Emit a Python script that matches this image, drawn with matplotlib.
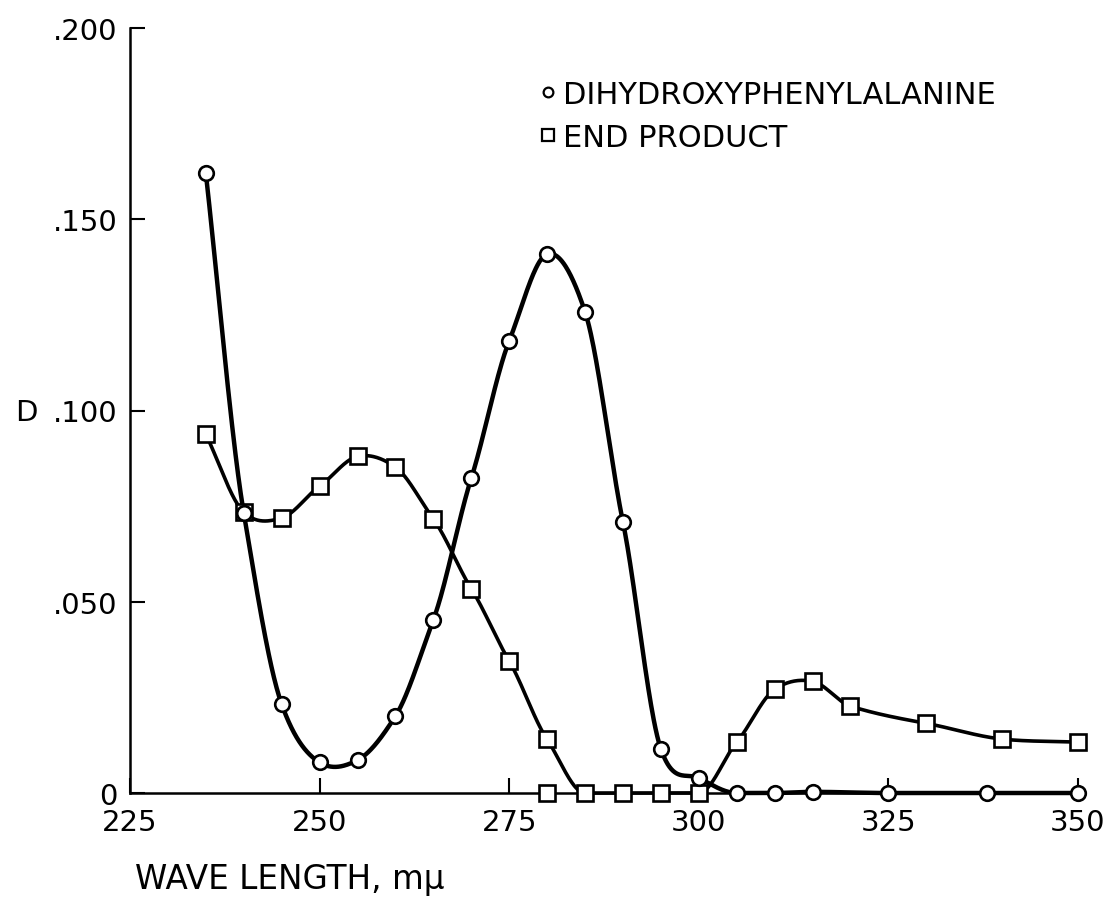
import numpy as np
import matplotlib
matplotlib.use("Agg")
import matplotlib.pyplot as plt
from matplotlib.lines import Line2D

plt.rcParams['font.family'] = ['DejaVu Sans']

# ---- data ----
dopa_x = [235, 240, 245, 250, 255, 260, 265, 270, 275, 280, 285, 290, 295, 300,
          305, 310, 315, 325, 338, 350]
dopa_y = [0.162, 0.0732, 0.0232, 0.0080, 0.0086, 0.0201, 0.0453, 0.0823, 0.1182,
          0.1409, 0.1258, 0.0708, 0.0115, 0.0039, 0.0, 0.0, 0.0003, 0.0, 0.0, 0.0]

end_x = [235, 240, 245, 250, 255, 260, 265, 270, 275, 280, 285, 290, 295, 300,
         305, 310, 315, 320, 330, 340, 350]
end_y = [0.0938, 0.0734, 0.0719, 0.0802, 0.0880, 0.0852, 0.0716, 0.0534, 0.0345,
         0.0140, 0.0, 0.0, 0.0, 0.0, 0.0133, 0.0271, 0.0292, 0.0227, 0.0182,
         0.0141, 0.0133]

end_extra_x = [280]
end_extra_y = [0.0]

x_ticks = [225, 250, 275, 300, 325, 350]
y_ticks = [0, 0.05, 0.10, 0.15, 0.20]
y_tick_labels = ['0', '.050', '.100', '.150', '.200']
legend_labels = ['DIHYDROXYPHENYLALANINE', 'END PRODUCT']


def smooth(x, y, xs, tension=0.15):
    """Cardinal cubic Hermite curve through the points."""
    x = np.asarray(x, float)
    y = np.asarray(y, float)
    n = len(x)
    h = np.diff(x)
    m = np.zeros(n)
    m[1:-1] = (1 - tension) * (y[2:] - y[:-2]) / (x[2:] - x[:-2])
    m[0] = (y[1] - y[0]) / h[0]
    m[-1] = (y[-1] - y[-2]) / h[-1]
    # keep flat stretches flat
    for k in range(1, n - 1):
        if y[k] == 0 and (y[k - 1] == 0 or y[k + 1] == 0):
            m[k] = 0.0
    idx = np.clip(np.searchsorted(x, xs) - 1, 0, n - 2)
    t = (xs - x[idx]) / h[idx]
    h00 = 2 * t**3 - 3 * t**2 + 1
    h10 = t**3 - 2 * t**2 + t
    h01 = -2 * t**3 + 3 * t**2
    h11 = t**3 - t**2
    out = (h00 * y[idx] + h10 * h[idx] * m[idx] + h01 * y[idx + 1]
           + h11 * h[idx] * m[idx + 1])
    return np.clip(out, 0, None)


W, H = 1112, 904
fig = plt.figure(figsize=(W / 100, H / 100), dpi=100)
ax = fig.add_axes([130 / W, 1 - 794 / H, (1078 - 130) / W, (794 - 29) / H])

xs = np.linspace(dopa_x[0], dopa_x[-1], 1000)
ax.plot(xs, smooth(dopa_x, dopa_y, xs), color='black', lw=3.2, zorder=3,
        solid_capstyle='round', clip_on=False)
xs2 = np.linspace(end_x[0], end_x[-1], 1000)
ax.plot(xs2, smooth(end_x, end_y, xs2), color='black', lw=2.6, zorder=3,
        solid_capstyle='round', clip_on=False)

ax.plot(dopa_x, dopa_y, linestyle='none', marker='o', ms=10.5, mfc='white',
        mec='black', mew=1.9, zorder=5, clip_on=False)
ax.plot(end_x, end_y, linestyle='none', marker='s', ms=11, mfc='white',
        mec='black', mew=1.9, zorder=4, clip_on=False)
ax.plot(end_extra_x, end_extra_y, linestyle='none', marker='s', ms=11,
        mfc='white', mec='black', mew=1.9, zorder=4, clip_on=False)

ax.set_xlim(225, 350)
ax.set_ylim(0, 0.200)
for s in ['top', 'right']:
    ax.spines[s].set_visible(False)
for s in ['left', 'bottom']:
    ax.spines[s].set_linewidth(1.8)

ax.set_xticks(x_ticks)
ax.set_xticklabels([str(v) for v in x_ticks])
ax.set_yticks(y_ticks)
ax.set_yticklabels(y_tick_labels)
ax.tick_params(axis='both', direction='in', length=11, width=1.5,
               labelsize=21)
ax.tick_params(axis='x', pad=11)
ax.tick_params(axis='y', pad=9)

fig.text(15 / W, 1 - 413 / H, 'D', fontsize=21, ha='left', va='center')
fig.text(135 / W, 1 - 880 / H, 'WAVE LENGTH, m\u03bc', fontsize=23.5,
         ha='left', va='center')

handles = [
    Line2D([], [], linestyle='none', marker='o', ms=7, mfc='white',
           mec='black', mew=1.6),
    Line2D([], [], linestyle='none', marker='s', ms=8.5, mfc='white',
           mec='black', mew=1.6),
]
fig.legend(handles, legend_labels, loc='upper left',
           bbox_to_anchor=(540 / W, 1 - 81 / H), frameon=False, fontsize=22,
           handlelength=0.55, handletextpad=0.2, labelspacing=0.45,
           borderpad=0, borderaxespad=0)

fig.savefig('out.png', dpi=100)
